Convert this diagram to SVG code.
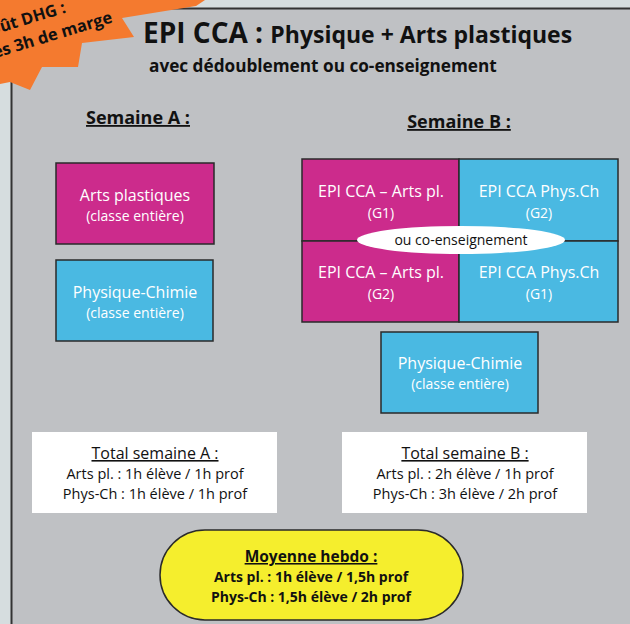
<svg xmlns="http://www.w3.org/2000/svg" width="630" height="624" viewBox="0 0 630 624">
<defs>
<style>
text{font-family:"Open Sans","Liberation Sans",sans-serif;}
.b{font-weight:bold;fill:#111;}
.w{fill:#fff;text-anchor:middle;}
.k{fill:#111;text-anchor:middle;}
.node{stroke:#2a2a2a;stroke-width:1.5;}
.mag{fill:#cc2b8c;}
.blu{fill:#4ab9e2;}
</style>
</defs>
<rect x="0" y="0" width="630" height="624" fill="#d6dddf"/>
<rect x="12" y="9" width="618" height="615" fill="#bfc1c4"/>
<line x1="11.5" y1="80" x2="11.5" y2="624" stroke="#333" stroke-width="2"/>
<line x1="60" y1="8.5" x2="630" y2="8.5" stroke="#333" stroke-width="2"/>
<g id="burst">
<polygon points="0,0 205,0 196,6 122,18 134,37 82,43 78,67 42,67 30,90 10,82 0,84" fill="#f47a2f"/>
<g transform="translate(-4,-4) rotate(-17 60 30)" font-weight="bold" fill="#111" font-size="16.5">
<text x="-4" y="20">oût DHG :</text>
<text x="-8" y="43">es 3h de marge</text>
</g>
</g>
<g id="title">
<text x="143" y="43" class="b" font-size="28">EPI CCA : <tspan font-size="23">Physique + Arts plastiques</tspan></text>
<text x="149" y="72" class="b" font-size="17.2">avec dédoublement ou co-enseignement</text>
</g>
<g id="semA"><text x="138" y="124" class="b" font-size="18" text-anchor="middle" text-decoration="underline">Semaine A :</text></g>
<g id="semB"><text x="459" y="128" class="b" font-size="18" text-anchor="middle" text-decoration="underline">Semaine B :</text></g>
<g id="artsA">
<rect x="56" y="163" width="158" height="81" class="node mag"/>
<text x="135" y="201" class="w" font-size="16">Arts plastiques</text>
<text x="135" y="221" class="w" font-size="14">(classe entière)</text>
</g>
<g id="physA">
<rect x="56" y="260" width="157" height="81" class="node blu"/>
<text x="135" y="298" class="w" font-size="16">Physique-Chimie</text>
<text x="135" y="318" class="w" font-size="14">(classe entière)</text>
</g>
<g id="gridB">
<rect x="302" y="159" width="157" height="82" class="node mag"/>
<rect x="459" y="159" width="159" height="82" class="node blu"/>
<rect x="302" y="241" width="157" height="81" class="node mag"/>
<rect x="459" y="241" width="159" height="81" class="node blu"/>
<text x="381" y="197" class="w" font-size="16">EPI CCA – Arts pl.</text>
<text x="381" y="218" class="w" font-size="14">(G1)</text>
<text x="539" y="197" class="w" font-size="16">EPI CCA Phys.Ch</text>
<text x="539" y="218" class="w" font-size="14">(G2)</text>
<text x="381" y="278" class="w" font-size="16">EPI CCA – Arts pl.</text>
<text x="381" y="299" class="w" font-size="14">(G2)</text>
<text x="539" y="278" class="w" font-size="16">EPI CCA Phys.Ch</text>
<text x="539" y="299" class="w" font-size="14">(G1)</text>
</g>
<g id="coens">
<ellipse cx="461" cy="240" rx="104" ry="14" fill="#fff"/>
<text x="461" y="245" class="k" font-size="14">ou co-enseignement</text>
</g>
<g id="physB">
<rect x="381" y="332" width="157" height="81" class="node blu"/>
<text x="460" y="369" class="w" font-size="16">Physique-Chimie</text>
<text x="460" y="389" class="w" font-size="14">(classe entière)</text>
</g>
<g id="totA">
<rect x="32" y="432" width="245" height="81" fill="#fff"/>
<text x="155" y="459" class="k" font-size="16" text-decoration="underline">Total semaine A :</text>
<text x="155" y="479" class="k" font-size="14.5">Arts pl. : 1h élève / 1h prof</text>
<text x="155" y="499" class="k" font-size="14.5">Phys-Ch : 1h élève / 1h prof</text>
</g>
<g id="totB">
<rect x="342" y="432" width="245" height="81" fill="#fff"/>
<text x="465" y="459" class="k" font-size="16" text-decoration="underline">Total semaine B :</text>
<text x="465" y="479" class="k" font-size="14.5">Arts pl. : 2h élève / 1h prof</text>
<text x="465" y="499" class="k" font-size="14.5">Phys-Ch : 3h élève / 2h prof</text>
</g>
<g id="moy">
<rect x="160" y="530" width="303" height="90" rx="45" ry="45" fill="#f5ee2d" stroke="#2a2a2a" stroke-width="1.5"/>
<text x="311" y="562" class="k" font-weight="bold" font-size="15.5" text-decoration="underline">Moyenne hebdo :</text>
<text x="311" y="582" class="k" font-weight="bold" font-size="14">Arts pl. : 1h élève / 1,5h prof</text>
<text x="311" y="602" class="k" font-weight="bold" font-size="14">Phys-Ch : 1,5h élève / 2h prof</text>
</g>
</svg>
